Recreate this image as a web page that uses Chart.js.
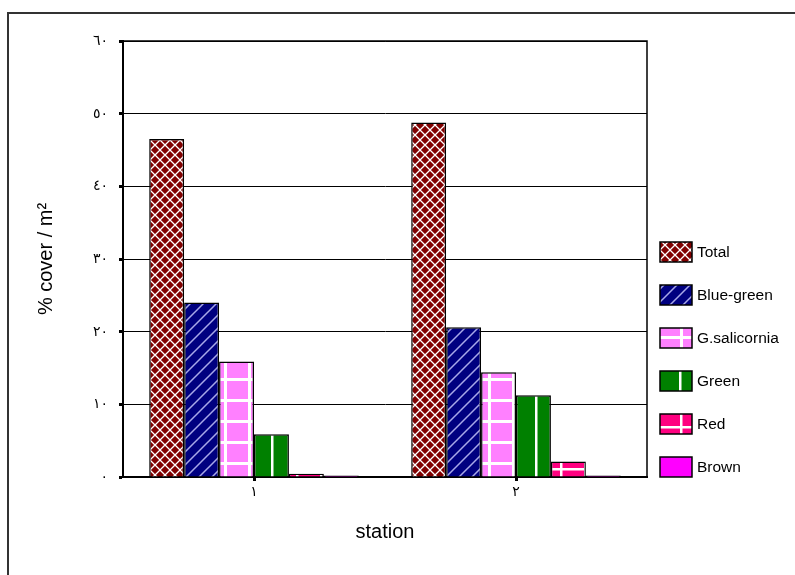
<!DOCTYPE html>
<html>
<head>
<meta charset="utf-8">
<script src="https://cdn.jsdelivr.net/npm/chart.js@4/dist/chart.umd.min.js"></script>
<style>
  html, body { margin: 0; padding: 0; background: #fff; }
  #wrap { width: 795px; height: 575px; }
</style>
</head>
<body>
<div id="wrap"><canvas id="c" width="795" height="575"></canvas></div>
<script>
// ---- data ----
const categories = ['١', '٢'];
const seriesNames = ['Total', 'Blue-green', 'G.salicornia', 'Green', 'Red', 'Brown'];
const totalValues = [46.5, 48.8];
const blueGreenValues = [24.0, 20.6];
const gSalicorniaValues = [15.9, 14.4];
const greenValues = [5.9, 11.25];
const redValues = [0.45, 2.15];
const brownValues = [0.2, 0.2];
const yTickLabels = ['٠', '١٠', '٢٠', '٣٠', '٤٠', '٥٠', '٦٠'];
const xTitle = 'station';
const yTitle = '% cover / m²';

// ---- patterns ----
function makePattern(w, h, draw) {
  const c = document.createElement('canvas');
  c.width = w; c.height = h;
  const g = c.getContext('2d');
  draw(g, w, h);
  return g.createPattern(c, 'repeat');
}
const patTotal = makePattern(10, 10, (g, w, h) => {
  g.fillStyle = '#800000'; g.fillRect(0, 0, w, h);
  g.strokeStyle = '#ffffff'; g.lineWidth = 1.3;
  g.beginPath();
  g.moveTo(0, 0); g.lineTo(w, h);
  g.moveTo(w, 0); g.lineTo(0, h);
  g.stroke();
});
const patBlue = makePattern(13, 13, (g, w, h) => {
  g.fillStyle = '#000080'; g.fillRect(0, 0, w, h);
  g.strokeStyle = '#a8a8e8'; g.lineWidth = 1.5;
  g.beginPath();
  g.moveTo(0, h); g.lineTo(w, 0);
  g.moveTo(-2, 2); g.lineTo(2, -2);
  g.moveTo(w - 2, h + 2); g.lineTo(w + 2, h - 2);
  g.stroke();
});
const patPink = makePattern(24, 21, (g, w, h) => {
  g.fillStyle = '#ff80ff'; g.fillRect(0, 0, w, h);
  g.fillStyle = '#ffffff';
  g.fillRect(8, 0, 3, h);
  g.fillRect(0, 0, w, 3);
});
const patGreen = makePattern(24, 10, (g, w, h) => {
  g.fillStyle = '#008000'; g.fillRect(0, 0, w, h);
  g.fillStyle = '#ffffff';
  g.fillRect(7, 0, 2.5, h);
});
const patRed = makePattern(24, 21, (g, w, h) => {
  g.fillStyle = '#ff0080'; g.fillRect(0, 0, w, h);
  g.fillStyle = '#ffffff';
  g.fillRect(8, 0, 2.5, h);
  g.fillRect(0, 6, w, 2.5);
});
const fills = [patTotal, patBlue, patPink, patGreen, patRed, '#ff00ff'];
const seriesValues = [totalValues, blueGreenValues, gSalicorniaValues, greenValues, redValues, brownValues];

Chart.defaults.color = '#000';
Chart.defaults.font.family = 'Arial, "Liberation Sans", "DejaVu Sans", sans-serif';

const frameAndLegend = {
  id: 'frameAndLegend',
  beforeDraw(chart) {
    const c = chart.ctx;
    c.save();
    c.fillStyle = '#fff';
    c.fillRect(0, 0, chart.width, chart.height);
    c.strokeStyle = '#333';
    c.lineWidth = 2;
    c.beginPath();
    c.moveTo(8, 575); c.lineTo(8, 13); c.lineTo(795, 13);
    c.stroke();
    c.restore();
  },
  afterDraw(chart) {
    const c = chart.ctx;
    const a = chart.chartArea;
    c.save();
    c.strokeStyle = '#000';
    c.lineWidth = 1.5;
    c.beginPath();
    c.moveTo(a.left, a.top); c.lineTo(a.right, a.top); c.lineTo(a.right, a.bottom);
    c.stroke();
    // legend
    chart.data.datasets.forEach((ds, i) => {
      const y = 242 + 43 * i;
      c.fillStyle = ds.backgroundColor;
      c.fillRect(660, y, 32, 20);
      c.lineWidth = 1.5;
      c.strokeStyle = '#000';
      c.strokeRect(660, y, 32, 20);
      c.fillStyle = '#000';
      c.font = '15.5px Arial, "Liberation Sans", sans-serif';
      c.textBaseline = 'middle';
      c.textAlign = 'left';
      c.fillText(ds.label, 697, y + 11);
    });
    c.restore();
  }
};

new Chart(document.getElementById('c'), {
  type: 'bar',
  data: {
    labels: categories,
    datasets: seriesNames.map((name, i) => ({
      label: name,
      data: seriesValues[i],
      backgroundColor: fills[i],
      borderColor: '#000',
      borderWidth: 1.5,
      borderSkipped: 'start',
      categoryPercentage: 0.8,
      barPercentage: 1.0
    }))
  },
  options: {
    responsive: false,
    animation: false,
    layout: { padding: { left: 0, top: 41, right: 148, bottom: 0 } },
    plugins: { legend: { display: false }, tooltip: { enabled: false } },
    scales: {
      x: {
        afterFit(scale) { scale.height = 98; },
        grid: { offset: false, drawOnChartArea: false, drawTicks: true, tickLength: 4, tickWidth: 3, tickColor: '#000' },
        border: { display: true, color: '#000', width: 2 },
        ticks: { padding: 3, font: { size: 14 }, color: '#000' },
        title: { display: true, text: xTitle, font: { size: 20 }, color: '#000', padding: { top: 0, bottom: 31 } }
      },
      y: {
        min: 0, max: 60,
        afterFit(scale) { scale.width = 123; },
        grid: { color: '#000', lineWidth: 1, drawTicks: true, tickLength: 4, tickWidth: 3, tickColor: '#000' },
        border: { display: true, color: '#000', width: 2 },
        ticks: {
          stepSize: 10, padding: 11, font: { size: 14 }, color: '#000',
          callback: (v, idx) => yTickLabels[idx]
        },
        title: { display: true, text: yTitle, font: { size: 20 }, color: '#000', padding: { top: 34, bottom: 0 } }
      }
    }
  },
  plugins: [frameAndLegend]
});
</script>
</body>
</html>
